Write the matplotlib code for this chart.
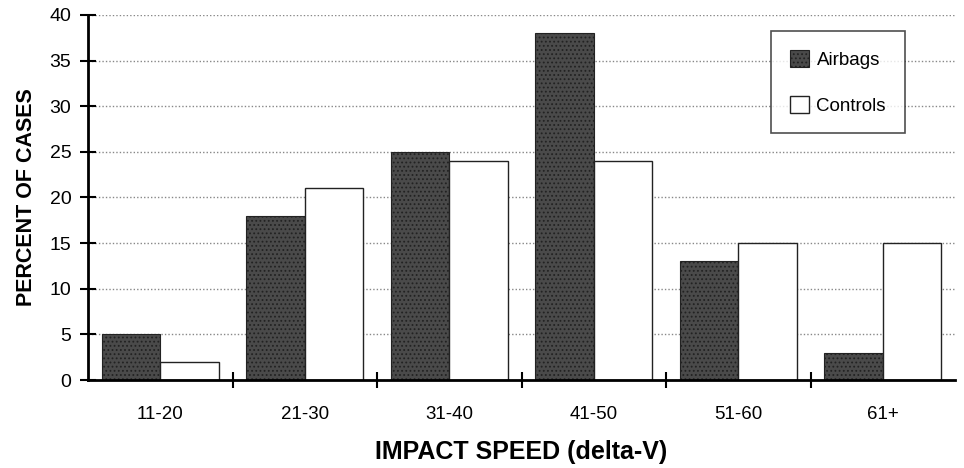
import matplotlib
matplotlib.use("Agg")
import matplotlib.pyplot as plt
import numpy as np

categories = ["11-20", "21-30", "31-40", "41-50", "51-60", "61+"]
airbags = [5, 18, 25, 38, 13, 3]
controls = [2, 21, 24, 24, 15, 15]
yticks = [0, 5, 10, 15, 20, 25, 30, 35, 40]

plt.rcParams['font.family'] = ['Liberation Sans', 'DejaVu Sans']
plt.rcParams['hatch.color'] = '#a0a0a0'
plt.rcParams['hatch.linewidth'] = 0.8

fig = plt.figure(figsize=(9.64, 4.68), dpi=100)
ax = fig.add_axes([0.0913, 0.188, 0.8994, 0.780])

x = np.arange(len(categories))
w = 0.405
ax.bar(x - w/2, airbags, w, facecolor='#4a4a4a', edgecolor='#222222', hatch='....',
       linewidth=0.8, label='Airbags', zorder=3)
ax.bar(x + w/2, controls, w, facecolor='white', edgecolor='#222222',
       linewidth=1.0, label='Controls', zorder=3)

ax.set_xlim(-0.5, len(categories) - 0.5)
ax.set_ylim(0, 40)
ax.set_yticks(yticks)
ax.set_yticklabels([str(v) for v in yticks], fontsize=14)
ax.set_xticks(x)
ax.set_xticklabels(categories, fontsize=13.5)
ax.tick_params(axis='x', which='major', length=0, pad=19)
ax.set_xticks(np.arange(len(categories) + 1)[1:-1] - 0.5, minor=True)
ax.tick_params(axis='x', which='minor', direction='inout', length=12, width=1.5)
ax.tick_params(axis='y', direction='inout', length=12, width=1.5, pad=6)

ax.yaxis.grid(True, linestyle=(0, (1, 1.5)), color='#888888', linewidth=1.0, zorder=0)
ax.set_axisbelow(True)
for s in ['top', 'right']:
    ax.spines[s].set_visible(False)
for s in ['left', 'bottom']:
    ax.spines[s].set_linewidth(2.0)
    ax.spines[s].set_zorder(4)

ax.set_ylabel('PERCENT OF CASES', fontsize=15.5, fontweight='bold', labelpad=9)
ax.set_xlabel('IMPACT SPEED (delta-V)', fontsize=18, fontweight='bold', labelpad=12)

leg = ax.legend(loc='upper right', bbox_to_anchor=(0.942, 0.956), borderaxespad=0,
                fontsize=13.5, frameon=True, fancybox=False, edgecolor='#222222',
                borderpad=1.0, labelspacing=1.45, handlelength=1.0, handleheight=1.0,
                handletextpad=0.4)
leg.get_frame().set_linewidth(1.2)

fig.savefig('out.png', dpi=100)
